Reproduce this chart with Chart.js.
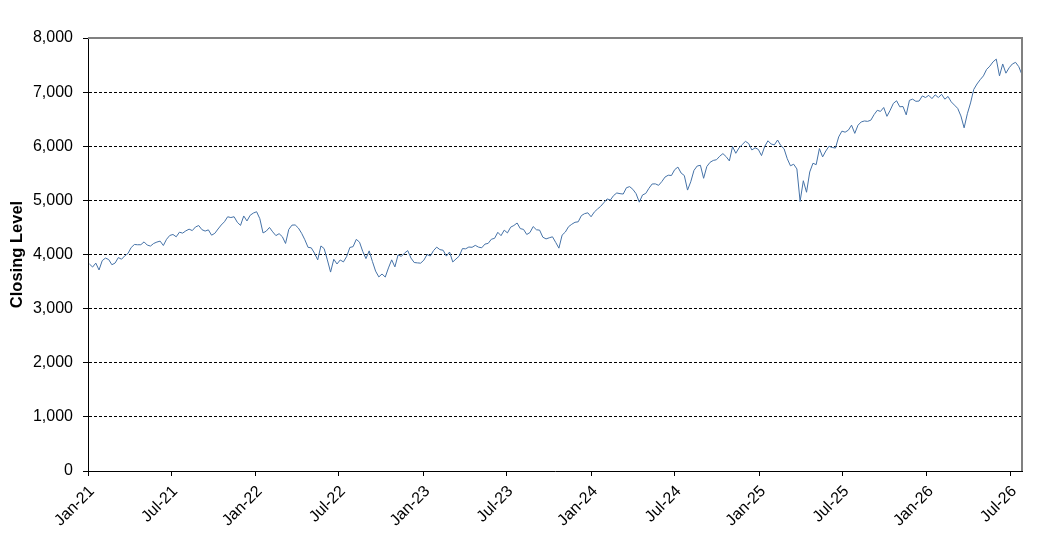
<!DOCTYPE html>
<html>
<head>
<meta charset="utf-8">
<script src="https://cdn.jsdelivr.net/npm/chart.js@4.4.1/dist/chart.umd.min.js"></script>
<style>
  body { margin: 0; background: #fff; }
  #wrap { width: 1048px; height: 542px; }
</style>
</head>
<body>
<div id="wrap"><canvas id="chartLine"></canvas></div>
<script>
// weekly closing levels, one value per week starting the week of 4 Jan 2021
const close2021 = [3825, 3768, 3841, 3714, 3887, 3934, 3907, 3811, 3842, 3943, 3913, 3975, 4020,
  4129, 4185, 4180, 4181, 4233, 4174, 4156, 4204, 4230, 4247, 4166, 4281, 4352, 4370, 4327, 4412,
  4395, 4437, 4468, 4442, 4509, 4535, 4459, 4433, 4455, 4357, 4391, 4471, 4545, 4605, 4697, 4683,
  4698, 4595, 4538, 4712, 4620, 4725, 4766];
const close2022 = [4790, 4662, 4398, 4432, 4500, 4419, 4349, 4385, 4329, 4204, 4463, 4543, 4546,
  4488, 4392, 4272, 4132, 4123, 4024, 3901, 4158, 4109, 3901, 3675, 3912, 3825, 3899, 3863, 3962,
  4130, 4145, 4280, 4228, 4058, 3924, 4067, 3873, 3693, 3586, 3640, 3583, 3752, 3901, 3771, 3993,
  3965, 4026, 4072, 3934, 3852, 3845, 3840];
const close2023 = [3895, 3999, 3972, 4071, 4136, 4090, 4079, 3970, 4046, 3862, 3917, 3971, 4109,
  4105, 4138, 4133, 4169, 4136, 4124, 4192, 4205, 4282, 4299, 4410, 4348, 4450, 4399, 4505, 4536,
  4582, 4478, 4464, 4370, 4406, 4516, 4457, 4450, 4320, 4288, 4309, 4327, 4224, 4117, 4358, 4415,
  4514, 4559, 4595, 4604, 4719, 4755, 4770];
const close2024 = [4697, 4784, 4840, 4891, 4959, 5027, 5006, 5089, 5137, 5124, 5117, 5234, 5254,
  5204, 5123, 4967, 5100, 5128, 5223, 5303, 5305, 5278, 5347, 5431, 5465, 5460, 5567, 5615, 5505,
  5459, 5190, 5344, 5554, 5635, 5648, 5408, 5626, 5703, 5738, 5751, 5815, 5864, 5808, 5729, 5995,
  5870, 5969, 6032, 6090, 6051, 5931, 5971];
const close2025 = [5942, 5827, 5997, 6101, 6041, 6026, 6115, 6013, 5955, 5770, 5639, 5668, 5581,
  4982, 5363, 5150, 5525, 5686, 5660, 5958, 5803, 5912, 6000, 5977, 5967, 6173, 6279, 6260, 6297,
  6389, 6238, 6389, 6449, 6467, 6460, 6482, 6584, 6664, 6644, 6716, 6553, 6664, 6792, 6840, 6729,
  6734, 6580, 6849, 6870, 6830, 6835, 6930];
const close2026 = [6900, 6940, 6880, 6950, 6900, 6960, 6870, 6920, 6820, 6760, 6700, 6560, 6340,
  6600, 6800, 7050, 7150, 7230, 7300, 7420, 7480, 7560, 7610, 7300, 7520, 7350, 7450, 7520, 7550,
  7470, 7320];

const tickLabels = ["Jan-21", "Jul-21", "Jan-22", "Jul-22", "Jan-23", "Jul-23",
  "Jan-24", "Jul-24", "Jan-25", "Jul-25", "Jan-26", "Jul-26"];
const yTicks = [0, 1000, 2000, 3000, 4000, 5000, 6000, 7000, 8000];

const DAY = 86400000;
const origin = Date.UTC(2021, 0, 1);
const firstDay = (Date.UTC(2021, 0, 4) - origin) / DAY;
const lastDay = (Date.UTC(2026, 6, 27) - origin) / DAY;

const closes = [].concat(close2021, close2022, close2023, close2024, close2025, close2026);
const points = closes.map((v, i) => ({ x: firstDay + i * 7, y: v }));

// tick positions: first of Jan / Jul for each label
const tickDays = tickLabels.map((lbl, k) =>
  (Date.UTC(2021 + Math.floor(k / 2), (k % 2) * 6, 1) - origin) / DAY);

const fontFamily = "'Liberation Sans', Arial, sans-serif";

const plotFrame = {
  id: "plotFrame",
  afterDatasetsDraw(chart) {
    const { ctx, chartArea: { left, right, top, bottom } } = chart;
    ctx.save();
    ctx.strokeStyle = "#808080";
    ctx.lineWidth = 2;
    ctx.beginPath();
    ctx.moveTo(left, top);
    ctx.lineTo(right, top);
    ctx.lineTo(right, bottom);
    ctx.stroke();
    ctx.restore();
  },
};

new Chart(document.getElementById("chartLine"), {
  type: "line",
  data: {
    datasets: [
      {
        label: "Closing Level",
        data: points,
        borderColor: "#4572a7",
        borderWidth: 1,
        pointRadius: 0,
        tension: 0,
      },
    ],
  },
  options: {
    responsive: true,
    maintainAspectRatio: false,
    animation: false,
    layout: {
      padding: { left: 0, right: 26, top: 38, bottom: 0 },
    },
    scales: {
      x: {
        type: "linear",
        min: 0,
        max: lastDay,
        afterFit(scale) {
          scale.height = 71;
        },
        afterBuildTicks(scale) {
          scale.ticks = tickDays.map((d) => ({ value: d }));
        },
        grid: {
          drawOnChartArea: false,
          drawTicks: true,
          tickLength: 5,
          color: "#000",
        },
        border: {
          color: "#000",
          width: 1,
        },
        ticks: {
          autoSkip: false,
          minRotation: 45,
          maxRotation: 45,
          padding: 6,
          labelOffset: 4,
          color: "#000",
          font: { family: fontFamily, size: 16 },
          callback: (value, index) => tickLabels[index],
        },
      },
      y: {
        min: 0,
        max: 8000,
        afterFit(scale) {
          scale.width = 88;
        },
        afterBuildTicks(scale) {
          scale.ticks = yTicks.map((v) => ({ value: v }));
        },
        grid: {
          color: (c) => (c.tick && (c.tick.value === 0 || c.tick.value === 8000) ? "rgba(0,0,0,0)" : "#000"),
          lineWidth: 1,
          tickLength: 5,
          tickColor: "#000",
        },
        border: {
          color: "#000",
          width: 1,
          dash: [3, 2],
        },
        ticks: {
          padding: 10,
          color: "#000",
          font: { family: fontFamily, size: 16 },
          callback: (value) => value.toLocaleString("en-US"),
        },
        title: {
          display: true,
          text: "Closing Level",
          color: "#000",
          padding: { top: 8, bottom: 0 },
          font: { family: fontFamily, size: 16.5, weight: "bold" },
        },
      },
    },
    plugins: {
      legend: { display: false },
      tooltip: { enabled: false },
    },
  },
  plugins: [plotFrame],
});
</script>
</body>
</html>
